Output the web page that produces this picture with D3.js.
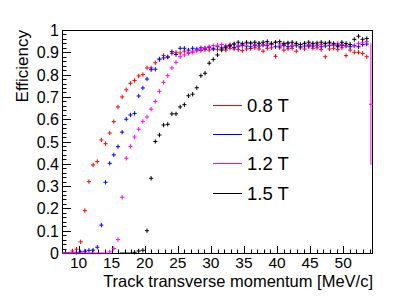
<!DOCTYPE html>
<html><head><meta charset="utf-8">
<script src="https://cdn.jsdelivr.net/npm/d3@7/dist/d3.min.js"></script>
<style>
html,body{margin:0;padding:0;background:#fff;}
svg{display:block;font-family:"Liberation Sans",Arial,sans-serif;}
</style></head>
<body>
<svg id="chart" width="415" height="298"></svg>
<script>
// ---- data ----
const momentum = [7.81,8.44,9.07,9.69,10.32,10.95,11.57,12.20,12.83,13.45,14.08,14.71,15.33,15.96,16.59,17.21,17.84,18.47,19.09,19.72,
20.35,20.97,21.60,22.23,22.85,23.48,24.11,24.73,25.36,25.99,26.61,27.24,27.87,28.49,29.12,29.75,30.37,31.00,31.63,32.25,
32.88,33.51,34.13,34.76,35.39,36.01,36.64,37.27,37.89,38.52,39.15,39.77,40.40,41.03,41.65,42.28,42.91,43.53,44.16,44.79,
45.41,46.04,46.67,47.29,47.92,48.55,49.17,49.80,50.43,51.05,51.68,52.31,52.93,53.56,54.19];
const binHalfWidth = 0.3133;

const eff08 = [0,0,0.009,0.017,0.05,0.19,0.32,0.395,0.41,0.507,0.49,0.538,0.589,0.655,0.70,0.732,0.761,0.774,0.794,0.80,
0.83,0.83,0.853,0.867,0.886,0.88,0.895,0.90,0.897,0.905,0.90,0.905,0.91,0.908,0.912,0.91,0.915,0.912,0.915,0.91,
0.918,0.915,0.912,0.908,0.915,0.917,0.92,0.915,0.905,0.918,0.92,0.882,0.92,0.91,0.915,0.918,0.905,0.92,0.915,0.925,
0.918,0.92,0.912,0.88,0.915,0.918,0.912,0.92,0.885,0.91,0.90,0.90,0.895,0.88,null];
const eff10 = [0,0,0,0.003,0.005,0.008,0.012,0.013,0.026,0.125,0.317,0.402,0.44,0.477,0.542,0.60,0.619,0.626,0.704,0.74,
0.78,0.822,0.824,0.87,0.875,0.878,0.903,0.89,0.918,0.918,0.91,0.918,0.915,0.92,0.918,0.922,0.915,0.925,0.92,0.925,
0.928,0.922,0.925,0.93,0.928,0.925,0.93,0.928,0.932,0.93,0.935,0.925,0.928,0.93,0.925,0.928,0.93,0.925,0.928,0.93,
0.928,0.93,0.925,0.928,0.93,0.932,0.925,0.93,0.928,0.925,0.93,0.925,0.935,0.937,null];
const eff12 = [0,0,0,0,0,0,0,0,0,0,0,0.005,0.02,0.06,0.25,0.425,0.478,0.52,0.555,0.59,
0.61,0.645,0.68,0.725,0.765,0.795,0.83,0.855,0.88,0.888,0.895,0.90,0.907,0.913,0.92,0.925,0.93,0.932,0.935,0.93,
0.935,0.938,0.93,0.935,0.938,0.94,0.935,0.94,0.935,0.938,0.935,0.945,0.938,0.935,0.94,0.932,0.938,0.935,0.94,0.935,
0.938,0.932,0.935,0.94,0.938,0.935,0.94,0.935,0.93,0.935,0.928,0.94,0.945,0.948,0.667];
const eff15 = [null,null,null,null,null,null,null,null,null,null,null,null,null,null,0,0,0,0.003,0.009,0.012,
0.10,0.335,0.50,0.529,0.574,0.577,0.624,0.624,0.655,0.665,0.705,0.712,0.741,0.795,0.806,0.851,0.868,0.888,0.91,0.92,
0.93,0.937,0.945,0.94,0.945,0.942,0.945,0.94,0.945,0.948,0.94,0.945,0.948,0.94,0.942,0.945,0.94,0.935,0.94,0.945,
0.94,0.942,0.945,0.94,0.945,0.94,0.932,0.945,0.94,0.935,0.958,0.972,0.958,0.962,null];
const bigErrors = [{series:"1.2 T", bin:74, lo:0.395, hi:0.94}];

const seriesNames = ["0.8 T","1.0 T","1.2 T","1.5 T"];
const seriesValues = [eff08, eff10, eff12, eff15];
const seriesColors = ["#ff0000","#0000ff","#ff00ff","#000000"];

const xTicksMajor = [10,15,20,25,30,35,40,45,50];
const yTicksMajor = [0,0.1,0.2,0.3,0.4,0.5,0.6,0.7,0.8,0.9,1];
const yTickLabels = ["0","0.1","0.2","0.3","0.4","0.5","0.6","0.7","0.8","0.9","1"];
const xTitle = "Track transverse momentum [MeV/c]";
const yTitle = "Efficiency";

// ---- layout ----
const L = 62, R = 373, T = 30, B = 253;
const svg = d3.select("#chart");
const x = d3.scaleLinear().domain([7.5, 54.5]).range([L, R]);
const y = d3.scaleLinear().domain([0, 1]).range([B, T]);

// frame
svg.append("rect").attr("x", L+0.5).attr("y", T+0.5).attr("width", R-L-1).attr("height", B-T)
  .attr("fill","none").attr("stroke","#000").attr("stroke-width",1);

// y ticks (inside)
const yMinor = d3.range(0, 1.0001, 0.02);
svg.append("g").selectAll("line").data(yMinor).join("line")
  .attr("x1", L).attr("x2", d => L + (Math.abs(d*10 - Math.round(d*10)) < 1e-6 ? 9 : 4.5))
  .attr("y1", d => Math.round(y(d))+0.5).attr("y2", d => Math.round(y(d))+0.5)
  .attr("stroke","#000").attr("stroke-width",1);
svg.append("g").selectAll("text").data(yTicksMajor).join("text")
  .attr("x", L-3).attr("y", d => y(d)+6).attr("text-anchor","end")
  .attr("font-size","16px").text((d,i) => yTickLabels[i]);

// x ticks (inside)
const xMinor = d3.range(8, 55, 1);
svg.append("g").selectAll("line").data(xMinor).join("line")
  .attr("x1", d => Math.round(x(d))+0.5).attr("x2", d => Math.round(x(d))+0.5)
  .attr("y1", B).attr("y2", d => B - (d % 5 === 0 ? 7 : 3.5))
  .attr("stroke","#000").attr("stroke-width",1);
svg.append("g").selectAll("text").data(xTicksMajor).join("text")
  .attr("x", d => x(d)).attr("y", B+14.5).attr("text-anchor","middle")
  .attr("font-size","15.5px").text(d => d);

// titles
svg.append("text").attr("x", R).attr("y", 287).attr("text-anchor","end")
  .attr("font-size","16.5px").text(xTitle);
svg.append("text").attr("transform", `translate(28,${T}) rotate(-90)`).attr("text-anchor","end")
  .attr("font-size","17px").text(yTitle);

// data points with error crosses
const gData = svg.append("g");
seriesValues.forEach((vals, si) => {
  const col = seriesColors[si];
  const pts = vals.map((v,i) => ({v, i, m: momentum[i]})).filter(d => d.v !== null);
  const g = gData.append("g").attr("stroke", col).attr("stroke-width", 1);
  g.selectAll("line.h").data(pts).join("line").attr("class","h")
    .attr("x1", d => x(d.m - binHalfWidth)).attr("x2", d => x(d.m + binHalfWidth))
    .attr("y1", d => y(d.v)).attr("y2", d => y(d.v));
  g.selectAll("line.v").data(pts.filter(d => d.v > 0)).join("line").attr("class","v")
    .attr("x1", d => x(d.m)).attr("x2", d => x(d.m))
    .attr("y1", d => {
      const be = bigErrors.find(e => e.series === seriesNames[si] && e.bin === d.i);
      return be ? y(be.hi) : y(d.v) - 2.2;
    })
    .attr("y2", d => {
      const be = bigErrors.find(e => e.series === seriesNames[si] && e.bin === d.i);
      return be ? y(be.lo) : y(d.v) + 2.2;
    });
});

// legend
const legY = [105, 134, 163, 193];
const leg = svg.append("g");
seriesNames.forEach((n, i) => {
  leg.append("line").attr("x1", 213).attr("x2", 242).attr("y1", legY[i]+0.5).attr("y2", legY[i]+0.5)
    .attr("stroke", seriesColors[i]).attr("stroke-width", 1);
  leg.append("text").attr("x", 247).attr("y", legY[i]+6.5).attr("font-size","18.5px").text(n);
});
</script>
</body></html>
